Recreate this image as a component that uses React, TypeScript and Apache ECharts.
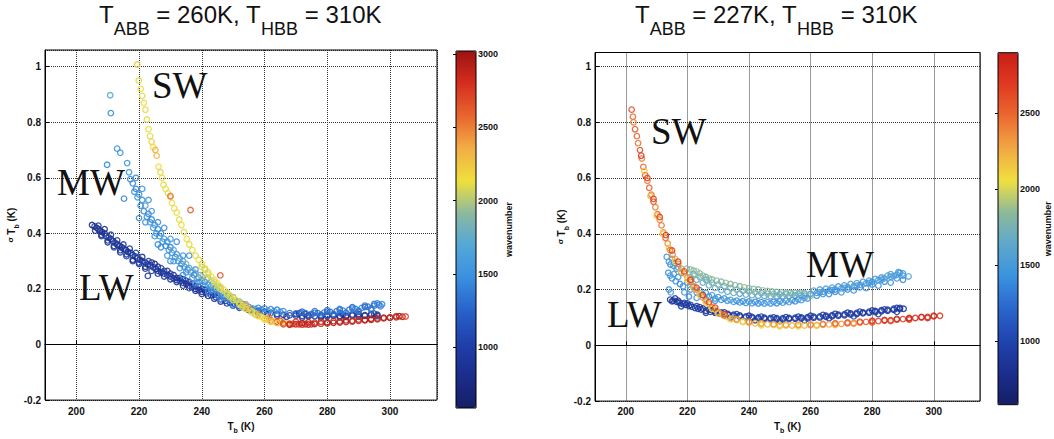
import React, { useEffect, useRef } from "react";
import * as echarts from "echarts";

// ---------- data ----------
const X_RANGE = [190, 315];
const LEFT_Y_RANGE = [-0.2, 1.06];
const RIGHT_Y_RANGE = [-0.2, 1.05];
const LEFT_WN_RANGE = [586, 3020];
const RIGHT_WN_RANGE = [580, 2900];
const ZERO_LINE = [0];

const LEFT_TITLE = "{a|T}{s|ABB}{a| = 260K, T}{s|HBB}{a| = 310K}";
const RIGHT_TITLE = "{a|T}{s|ABB}{a| = 227K, T}{s|HBB}{a| = 310K}";
const BAND_NAMES = ["SW", "MW", "LW"];

const LEFT_COLORS = ["#151f66", "#1b2d8c", "#1f40aa", "#2862c8", "#3a8fe0", "#52a8d8", "#8cb8a0", "#efe03c", "#f2ad46", "#e8652e", "#d52e1e", "#9e1212"];
const RIGHT_COLORS = ["#151f66", "#1b2e8e", "#1f44ae", "#2a66cc", "#3a92e0", "#5ea8cc", "#8cb89c", "#f0e040", "#f2a844", "#ec6a30", "#e03a22", "#c81e18"];

// [Tb (K), sigma Tb (K), wavenumber]
const leftLW = [
  [205,0.43,850],[205.8,0.425,900],[206.5,0.42,780],[207,0.415,950],[207.5,0.41,820],[208.2,0.405,880],[209,0.4,760],[209.5,0.39,990],[210.3,0.385,860],[211,0.38,920],[211.8,0.372,800],[212.5,0.365,1000],[213,0.36,870],[213.8,0.355,940],[214.5,0.35,780],[215,0.345,1050],[215.8,0.34,900],[216.5,0.333,830],[217.3,0.33,960],[218,0.322,880],[218.8,0.317,1010],[219.5,0.31,790],[220.3,0.305,920],[221,0.3,860],[222,0.295,980],[222.8,0.288,830],[223.6,0.285,900],[224.5,0.278,1040],[225.3,0.272,870],[226,0.265,950],[227,0.26,810],[228,0.255,900],[229,0.25,990],[230,0.245,860],[231,0.238,930],[232,0.232,800],[233,0.228,1060],[234,0.222,880],[235,0.218,950],[236,0.212,840],[237,0.207,1000],[238,0.2,900],[239,0.196,820],[240,0.19,970],[241.5,0.184,880],[243,0.177,1030],[244.5,0.17,850],[246,0.163,940],[247.5,0.157,900],[249,0.15,1010],[250.5,0.145,870],[252,0.139,950],[254,0.133,900],[256,0.127,1000],[258,0.122,860],[260,0.118,940],[262,0.114,900],[264,0.11,990],[266,0.107,850],[268,0.105,920],[270,0.104,880],[272,0.103,1000],[274,0.102,870],[276,0.102,950],[278,0.102,820],[280,0.102,900],[282,0.103,990],[284,0.103,860],[286,0.104,930],[288,0.104,800],[290,0.105,960],[292,0.106,880],[294,0.106,1000],[296,0.107,900],
  [206,0.41,900],[208,0.395,850],[210,0.375,950],[212,0.355,880],[214,0.34,820],[216,0.325,960],[218,0.305,900],[220,0.295,1040],[222,0.28,870],[224,0.295,930],[226,0.28,850],[228,0.265,990],[230,0.255,900],[232,0.24,820],[234,0.235,970],[236,0.225,880],[238,0.21,1050],[240,0.2,900],[242,0.19,860],[244,0.18,980],[222.8,0.247,900],
  [271,0.112,950],[273,0.11,880],[275,0.108,1000],[280,0.107,870],[285,0.108,940],[290,0.11,900],[295,0.111,980],[272,0.097,900],[278,0.097,950],[284,0.098,850],[290,0.1,1000],[296,0.102,920],
  [207,0.428,900],[209,0.415,820],[211,0.395,980],[213,0.375,860],[215,0.36,930],[217,0.345,800],[219,0.33,990],[221,0.315,870],[223,0.3,940],[225,0.29,820],[227,0.275,1000],[229,0.265,880],[231,0.25,950],[233,0.24,840],[235,0.23,980],[237,0.22,870],[239,0.208,930],[241,0.197,850],[243,0.188,990],[245,0.178,880],[247,0.168,950],[249,0.16,850],[251,0.152,990],[253,0.145,900],
  [208,0.39,900],[210,0.368,850],[212,0.35,970],[214,0.332,880],[216,0.318,940],[218,0.3,830],[220,0.29,1000],[222,0.273,870],[224,0.265,950],[226,0.255,840],[228,0.245,980],[230,0.235,880],[232,0.225,940],[234,0.212,830],[236,0.203,990],[238,0.193,870],[240,0.182,950],[242,0.175,850],[244,0.165,990],[246,0.155,880],[248,0.148,950],[250,0.14,850],[252,0.132,990],[255,0.124,900],[258,0.115,950],[261,0.109,880],[264,0.104,990],[267,0.1,870],
  [270,0.11,900],[274,0.106,980],[278,0.105,850],[282,0.106,950],[286,0.1,880],[288,0.108,990],[292,0.103,870],[294,0.109,950],
];
const leftMW = [
  [210.8,0.897,1700],[211,0.833,1450],[209.8,0.647,1450],[213,0.705,1500],[214,0.69,1550],[215.2,0.525,1400],[216.2,0.653,1500],[217.2,0.595,1450],[216.8,0.62,1550],
  [218,0.58,1450],[218.5,0.55,1500],[219,0.56,1400],[219.5,0.53,1550],[220,0.54,1600],[220.5,0.5,1450],[221,0.52,1500],[221.5,0.48,1400],[222,0.5,1650],[222.5,0.46,1500],[223,0.47,1450],[223.5,0.44,1550],[224,0.45,1400],[224.5,0.42,1500],[225,0.43,1600],[225.5,0.4,1450],[226,0.415,1500],[226.5,0.39,1550],[227,0.4,1400],[227.5,0.37,1500],[228,0.38,1650],[228.5,0.355,1450],[229,0.37,1500],[229.5,0.34,1550],[230,0.35,1400],[230.5,0.33,1500],[231,0.34,1700],[231.5,0.315,1450],[232,0.325,1550],[232.5,0.3,1500],[233,0.31,1800],[233.5,0.29,1450],[234,0.3,1550],[234.5,0.28,1500],[235,0.29,1850],[235.5,0.27,1450],[236,0.275,1600],[236.5,0.26,1500],[237,0.265,1900],[237.5,0.25,1450],[238,0.255,1550],[239,0.24,1500],[239.5,0.25,1850],[240,0.23,1450],[241,0.225,1550],[241.5,0.235,1900],[242,0.215,1500],[243,0.21,1450],[243.5,0.22,1800],[244,0.2,1550],[245,0.195,1500],[245.5,0.205,1850],[246,0.185,1450],[247,0.18,1550],[248,0.175,1500],[248.5,0.18,1800],[249,0.165,1450],[250,0.16,1550],[251,0.155,1500],[252,0.15,1400],[253,0.145,1550],[254,0.14,1450],[255,0.135,1500],[256,0.13,1400],[257,0.128,1550],[258,0.132,1450],[259,0.125,1500],[260,0.13,1400],[261,0.122,1550],[262,0.127,1450],[263,0.12,1500],[264,0.125,1400],[265,0.118,1550],[266,0.12,1450],[268,0.113,1350],[270,0.112,1300],[271.5,0.115,1250],[273,0.113,1300],[275,0.11,1350],[277,0.113,1300],[279,0.115,1400],[281,0.117,1350],[283,0.12,1300],[285,0.122,1400],[287,0.125,1350],[289,0.128,1300],[291,0.132,1400],[293,0.136,1350],[295,0.14,1300],[296.5,0.143,1400],[297.5,0.145,1450],
  [276,0.12,1300],[280,0.124,1350],[284,0.128,1400],[288,0.134,1300],[292,0.14,1350],[296,0.148,1400],[278,0.107,1350],[284,0.113,1300],[290,0.122,1400],[294,0.13,1350],
  [220,0.455,1450],[224,0.48,1550],[226,0.36,1450],[230,0.3,1500],[234,0.25,1450],[238,0.22,1500],[242,0.19,1450],[246,0.165,1500],[250,0.14,1450],[236,0.32,1450],[232,0.37,1500],[228,0.42,1450],
  [240,0.245,1950],[244,0.21,1950],[248,0.185,1900],[252,0.155,1950],[256,0.13,1900],
  [250,0.148,1350],[252,0.138,1300],[254,0.13,1350],[256,0.122,1300],[258,0.118,1350],
  [225,0.39,1500],[227,0.35,1450],[229,0.32,1550],[231,0.3,1500],[233,0.275,1450],[235,0.26,1550],[237,0.24,1500],[239,0.225,1450],[241,0.21,1550],[243,0.195,1500],[245,0.18,1450],[247,0.17,1550],[249,0.158,1500],[222,0.44,1550],[226,0.44,1500],[230,0.38,1550],[234,0.32,1500],[238,0.27,1550],[242,0.24,1800],[246,0.2,1850],[250,0.17,1800],[254,0.145,1850],[221,0.56,1500],[219,0.6,1450],[223,0.52,1550],
  [272,0.118,1300],[276,0.114,1350],[280,0.118,1300],[284,0.124,1350],[288,0.129,1400],[292,0.135,1300],[295,0.146,1350],[282,0.11,1300],[286,0.115,1350],[290,0.118,1300],[294,0.125,1350],[297,0.138,1400],
];
const leftSW = [
  [219.4,1.008,2250],[219.9,0.95,2100],[220.5,0.92,2150],[221,0.895,2100],[221.5,0.87,2150],[222,0.845,2100],[222.5,0.81,2100],[223,0.775,2150],[223.5,0.75,2100],[224,0.73,2200],[224.5,0.71,2150],[225.2,0.7,2350],[225.6,0.68,2300],[226.2,0.64,2150],[226.8,0.62,2100],[227.3,0.6,2150],[227.8,0.575,2100],[228.5,0.56,2150],[229.2,0.545,2100],[230,0.535,2400],[230.5,0.51,2150],[231.2,0.49,2100],[232,0.475,2150],[232.8,0.45,2100],[233.5,0.43,2150],[234.3,0.405,2100],[235.2,0.38,2150],[236,0.36,2100],[237,0.34,2150],[238,0.32,2100],[239,0.305,2150],[240,0.29,2100],[241,0.275,2150],[242,0.26,2100],[243,0.245,2150],[244,0.232,2100],[245,0.22,2150],[246,0.208,2100],[247,0.197,2150],[248,0.187,2100],[249,0.177,2150],[250,0.168,2100],[251,0.16,2150],[252,0.15,2100],[253,0.142,2200],[254,0.135,2150],[255,0.127,2400],[256,0.12,2150],[257,0.113,2100],[258,0.107,2550],[259,0.1,2150],[260,0.095,2100],[261,0.09,2200],[262,0.087,2600],[263,0.084,2150],[264,0.082,2700],[265,0.08,2200],[266,0.078,2600],[267,0.077,2150],[268,0.075,2800],[269,0.074,2700],[270,0.073,2900],[271,0.073,2800],[272,0.072,2900],[273,0.073,2850],[274,0.072,2950],[275,0.073,2800],[276,0.074,2900],[278,0.075,2850],[280,0.076,2900],[282,0.078,2950],[284,0.079,2850],[286,0.081,2900],[288,0.083,2950],[290,0.085,2850],[292,0.087,2900],[294,0.089,2950],[296,0.091,2850],[298,0.094,2900],[300,0.096,2950],[302,0.098,2850],[304,0.1,2900],[305,0.101,2700],
  [270,0.082,2800],[274,0.08,2900],[278,0.082,2850],[282,0.084,2900],[286,0.087,2950],[290,0.09,2850],[294,0.093,2900],[298,0.097,2950],[302,0.102,2850],
  [236.4,0.484,2600],[245.9,0.249,2650],[230,0.533,2500],[253.9,0.141,2400],[261.5,0.097,2500],[265,0.085,2650],
  [240,0.28,2100],[242,0.252,2150],[244,0.225,2100],[246,0.2,2150],[248,0.18,2100],[250,0.16,2150],[252,0.143,2100],[254,0.128,2150],[256,0.115,2100],[258,0.102,2150],[260,0.09,2200],[262,0.082,2250],[264,0.077,2300],[266,0.073,2700],[268,0.071,2900],[241,0.27,2050],[245,0.212,2050],[249,0.17,2050],[253,0.135,2050],[257,0.108,2050],
  [272,0.078,2900],[276,0.079,2850],[280,0.08,2950],[284,0.083,2900],[288,0.086,2850],[292,0.089,2950],[296,0.094,2900],[300,0.098,2850],[303,0.102,2950],
];

const rightLW = [
  [214.4,0.164,900],[215.5,0.16,850],[216.5,0.156,950],[217.5,0.152,800],[218.5,0.148,1000],[219.5,0.145,880],[220.5,0.141,920],[221.5,0.138,830],[222.5,0.134,980],[223.5,0.131,870],[224.5,0.128,940],[226,0.124,820],[227.5,0.12,1000],[229,0.117,880],[230.5,0.114,930],[232,0.111,850],[233.5,0.108,980],[235,0.106,880],[237,0.103,940],[239,0.1,820],[241,0.098,1000],[243,0.096,870],[245,0.095,930],[247,0.094,850],[249,0.093,980],[251,0.093,880],[253,0.094,940],[255,0.095,830],[257,0.096,1000],[259,0.097,870],[261,0.099,930],[263,0.1,850],[265,0.102,980],[267,0.104,880],[269,0.106,940],[271,0.108,830],[273,0.11,1000],[275,0.112,870],[277,0.115,930],[279,0.117,850],[281,0.119,980],[283,0.122,880],[285,0.124,940],[287,0.127,830],[289,0.13,1000],[290.2,0.131,900],
  [216,0.168,880],[220,0.15,950],[224,0.137,850],[228,0.126,950],[232,0.118,880],[236,0.112,990],[240,0.106,870],[244,0.103,950],[248,0.1,880],[252,0.101,960],[256,0.103,850],[260,0.106,950],[264,0.109,880],[268,0.113,960],[272,0.117,850],[276,0.121,950],[280,0.125,880],[284,0.129,960],[288,0.134,900],
  [218,0.14,900],[226,0.117,940],[234,0.1,880],[242,0.09,950],[250,0.087,900],[258,0.09,950],[266,0.097,880],[274,0.104,960],[282,0.112,900],[288,0.12,950],
  [215,0.158,900],[217,0.16,850],[219,0.152,950],[221,0.145,880],[223,0.14,990],[225,0.132,870],[227,0.128,940],[229,0.122,850],[231,0.118,980],[233,0.113,880],[235,0.11,940],[237,0.107,830],[239,0.104,1000],[241,0.102,870],[243,0.1,930],[245,0.099,850],[247,0.098,980],[249,0.097,880],[251,0.097,940],[253,0.098,830],[255,0.099,1000],[257,0.1,870],[259,0.101,930],[261,0.103,850],[263,0.104,980],[265,0.106,880],[267,0.108,940],[269,0.11,830],[271,0.112,1000],[273,0.114,870],[275,0.116,930],[277,0.118,850],[279,0.121,980],[281,0.123,880],[283,0.126,940],[285,0.128,830],[287,0.131,1000],[289,0.134,870],
];
const rightMW = [
  [213.3,0.317,1450],[214,0.3,1500],[214.5,0.29,1400],[215,0.31,1550],[215.5,0.285,1450],[216,0.295,1500],[216.5,0.275,1400],[217,0.28,1550],[213.8,0.26,1450],[214.4,0.25,1500],[215,0.24,1400],[215.6,0.255,1550],[216.2,0.23,1450],[217,0.245,1500],[217.6,0.22,1400],[218.6,0.212,1450],[218,0.26,1600],[214,0.2,1450],[214.6,0.19,1500],[219,0.19,1450],[220.5,0.175,1400],
  [219.8,0.275,1800],[221,0.272,1850],[222,0.268,1750],[223,0.265,1900],[224,0.258,1800],[225,0.25,1850],[226,0.245,1750],[227,0.24,1900],[228,0.236,1800],[229.5,0.232,1850],[231,0.228,1750],[232.5,0.224,1900],[234,0.22,1800],[235.5,0.216,1850],[237,0.212,1750],[238.5,0.208,1900],[240,0.205,1800],[241.5,0.202,1850],[243,0.2,1750],[244.5,0.197,1900],[246,0.195,1800],[247.5,0.193,1850],[249,0.191,1750],[250.5,0.19,1850],[252,0.189,1800],[253.5,0.188,1750],[255,0.188,1850],[256.6,0.188,1800],[258,0.187,1700],
  [221,0.245,1650],[223,0.235,1700],[225,0.225,1600],[227,0.215,1650],[229,0.205,1700],[231,0.198,1600],[233,0.192,1650],[235,0.188,1700],[237,0.185,1600],[239,0.182,1650],[241,0.18,1700],[243,0.178,1600],[245,0.177,1650],[247,0.176,1700],[249,0.176,1600],[251,0.176,1650],[253,0.177,1700],[255,0.178,1600],[257,0.179,1650],
  [220,0.225,1450],[222,0.21,1500],[224,0.198,1400],[226,0.188,1450],[228,0.18,1500],[230,0.173,1400],[232,0.168,1450],[234,0.163,1500],[236,0.16,1400],[238,0.158,1450],[240,0.157,1500],[242,0.156,1400],[244,0.155,1450],[246,0.155,1500],[248,0.156,1400],[250,0.158,1450],[252,0.16,1500],[254,0.162,1400],[256,0.165,1450],[258,0.17,1500],
  [260,0.185,1500],[262,0.188,1450],[264,0.192,1550],[266,0.196,1500],[268,0.2,1450],[270,0.204,1550],[272,0.208,1500],[274,0.212,1450],[276,0.217,1550],[278,0.222,1500],[280,0.228,1450],[282,0.234,1550],[284,0.24,1500],[286,0.246,1450],[288,0.253,1550],[290,0.258,1500],[291.8,0.247,1600],
  [261,0.196,1550],[265,0.203,1500],[269,0.211,1450],[273,0.22,1550],[277,0.228,1500],[281,0.238,1450],[285,0.25,1550],[288.5,0.262,1500],
  [262,0.178,1450],[266,0.184,1400],[270,0.19,1450],[274,0.197,1400],[278,0.205,1450],[282,0.214,1400],[286,0.225,1450],[290,0.235,1400],
  [260,0.178,1800],[258,0.185,1750],
  [222,0.255,1750],[224,0.245,1800],[226,0.235,1700],[228,0.225,1750],[230,0.218,1800],[232,0.212,1700],[234,0.206,1750],[236,0.2,1800],[238,0.196,1700],[240,0.193,1750],[242,0.19,1800],[244,0.187,1700],[246,0.185,1750],[248,0.184,1800],[250,0.183,1700],[252,0.183,1750],[254,0.183,1800],[256,0.184,1700],[258,0.178,1650],
  [221,0.2,1450],[223,0.19,1500],[225,0.182,1400],[227,0.175,1450],[229,0.168,1500],[231,0.163,1400],[233,0.16,1450],[235,0.156,1500],[237,0.154,1400],[239,0.152,1450],[241,0.151,1500],[243,0.15,1400],[245,0.15,1450],[247,0.15,1500],[249,0.151,1400],[251,0.153,1450],[253,0.155,1500],[255,0.158,1400],[257,0.162,1450],[259,0.168,1500],[223,0.17,1450],[226,0.165,1400],[229,0.16,1450],
  [263,0.19,1500],[267,0.198,1450],[271,0.206,1550],[275,0.214,1500],[279,0.224,1450],[283,0.235,1550],[287,0.248,1500],[289,0.26,1450],[264,0.184,1450],[268,0.192,1400],[272,0.2,1450],[276,0.208,1400],[280,0.218,1450],[284,0.228,1400],[288,0.24,1450],[290,0.25,1500],[263,0.2,1550],[267,0.207,1500],[271,0.215,1450],[275,0.223,1550],[279,0.232,1500],[283,0.243,1450],[286,0.255,1550],
];
const rightSW = [
  [201.9,0.845,2600],[202.3,0.82,2500],[202.5,0.8,2400],[203,0.775,2550],[203.6,0.75,2500],[204,0.725,2450],[204.6,0.7,2600],[205.2,0.67,2400],[205.7,0.64,2500],[206.3,0.61,2550],[207,0.59,2400],[207.6,0.565,2500],[208.3,0.54,2450],[209,0.515,2550],[209.6,0.495,2400],[210.3,0.47,2500],[211,0.45,2350],[211.6,0.43,2450],[212.2,0.405,2400],[212.9,0.385,2500],[213.6,0.365,2350],[214.4,0.342,2450],[215.2,0.325,2400],[216,0.31,2300],[217,0.292,2450],[218,0.275,2350],[219,0.258,2400],[220,0.243,2300],[221,0.228,2450],[222,0.213,2350],[223,0.2,2400],[224,0.187,2250],[225,0.172,2400],[226,0.16,2350],[227,0.148,2300],[228,0.137,2400],[229,0.128,2250],[230,0.12,2350],[231.5,0.11,2300],[233,0.102,2200],[234.5,0.096,2300],[236,0.091,2250],[238,0.086,2150],[240,0.082,2300],[242,0.079,2200],[244,0.076,2150],[246,0.075,2250],[248,0.073,2100],[250,0.072,2200],[252,0.071,2150],[254,0.071,2250],[256,0.071,2100],[258,0.071,2200],[260,0.072,2300],[262,0.073,2250],[264,0.074,2350],[266,0.075,2300],[268,0.076,2400],[270,0.077,2350],[272,0.079,2450],[274,0.08,2400],[276,0.082,2500],[278,0.084,2550],[280,0.086,2600],[282,0.087,2650],[284,0.089,2700],[286,0.09,2700],[288,0.092,2750],[290,0.094,2700],[292,0.096,2750],[294,0.098,2800],[296,0.1,2750],[298,0.102,2800],[300,0.104,2750],[302,0.106,2700],
  [206,0.625,2150],[208,0.535,2200],[210,0.465,2150],[212,0.4,2100],[214,0.348,2150],[216,0.3,2100],[218,0.265,2150],[220,0.235,2100],[222,0.205,2150],[224,0.18,2100],[226,0.153,2150],[228,0.131,2100],[230,0.114,2150],[234,0.093,2100],[238,0.083,2150],[244,0.072,2100],[250,0.068,2150],[256,0.068,2100],[262,0.07,2150],[268,0.073,2200],[274,0.077,2300],[280,0.082,2500],[286,0.087,2600],[292,0.092,2700],[298,0.098,2750],
  [205,0.68,2700],[207,0.6,2650],[209,0.525,2700],[211,0.46,2650],[213,0.395,2700],[215,0.34,2650],[217,0.3,2700],[219,0.265,2650],[221,0.235,2700],[223,0.207,2650],[225,0.18,2700],[227,0.155,2650],[229,0.135,2700],[232,0.112,2650],
  [232,0.106,2400],[236,0.094,2350],[240,0.085,2400],[244,0.079,2300],[248,0.076,2350],[252,0.074,2300],[256,0.074,2350],[260,0.075,2400],[264,0.077,2450],[268,0.079,2500],[272,0.082,2550],[276,0.085,2600],[280,0.088,2700],[284,0.091,2750],[288,0.095,2800],[292,0.098,2800],[296,0.102,2800],[300,0.106,2800],
];

// ---------- helpers ----------
const FONT = "Liberation Sans";
const toItems = (arr: number[][], range: number[], colors: string[]) =>
  arr.map((p) => ({
    value: p,
    itemStyle: {
      borderColor: echarts.color.lerp((p[2] - range[0]) / (range[1] - range[0]), colors) as string,
    },
  }));

const titleRich = {
  a: { fontSize: 24, lineHeight: 24, verticalAlign: "top", fontFamily: FONT, fontWeight: "normal", color: "#111" },
  s: { fontSize: 18, lineHeight: 18, verticalAlign: "top", padding: [18, 0, 0, 0], fontFamily: FONT, fontWeight: "normal", color: "#111" },
};
const nameRich = {
  g: { fontSize: 8, lineHeight: 10, verticalAlign: "top", fontFamily: FONT, color: "#111", fontWeight: "bold" },
  t: { fontSize: 10, lineHeight: 10, verticalAlign: "top", fontFamily: FONT, color: "#111", fontWeight: "bold" },
  b: { fontSize: 7, lineHeight: 7, verticalAlign: "top", padding: [6, 0, 0, 0], fontFamily: FONT, color: "#111", fontWeight: "bold" },
};
const tickLabel = { fontSize: 10, fontWeight: "bold", fontFamily: FONT, color: "#111" };
const dotted = { show: true, lineStyle: { color: "#333", type: "dotted", width: 1 } };
const plain = (v: number) => String(v);

function mainX(grid: number, gap: number, margin: number) {
  return {
    gridIndex: grid, type: "value", min: X_RANGE[0], max: X_RANGE[1], splitNumber: 6,
    axisLine: { show: true, lineStyle: { color: "#000" } },
    axisTick: { show: true, inside: true, length: 4, lineStyle: { color: "#000" } },
    axisLabel: { ...tickLabel, margin, showMinLabel: false, showMaxLabel: false, formatter: plain },
    splitLine: dotted,
    name: "{t|T}{b|b}{t| (K)}", nameLocation: "middle", nameGap: gap,
    nameTextStyle: { fontSize: 10, fontWeight: "bold", fontFamily: FONT, rich: nameRich },
  };
}
function mainY(grid: number, range: number[], gap: number) {
  return {
    gridIndex: grid, type: "value", min: range[0], max: range[1], interval: 0.2,
    axisLine: { show: true, lineStyle: { color: "#000" } },
    axisTick: { show: true, inside: true, length: 4, lineStyle: { color: "#000" } },
    axisLabel: { ...tickLabel, margin: 4, showMaxLabel: false },
    splitLine: dotted,
    name: "{g|σ }{t|T}{b|b}{t| (K)}", nameLocation: "middle", nameGap: gap,
    nameTextStyle: { fontSize: 10, fontWeight: "bold", fontFamily: FONT, rich: nameRich },
  };
}
function barY(grid: number, range: number[], gap: number) {
  return {
    gridIndex: grid, type: "value", position: "right", min: range[0], max: range[1], splitNumber: 5, z: 5,
    axisLine: { show: false },
    axisTick: { show: true, inside: true, length: 3, lineStyle: { color: "#000" } },
    axisLabel: { fontSize: 9, fontWeight: "bold", fontFamily: FONT, color: "#111", margin: 2, showMinLabel: false, showMaxLabel: false, formatter: plain },
    splitLine: { show: false },
    name: "wavenumber", nameLocation: "middle", nameGap: gap,
    nameTextStyle: { fontSize: 9, fontWeight: "bold", fontFamily: FONT, color: "#111" },
  };
}
function scatter(xi: number, data: any[], withZero: boolean) {
  const s: any = {
    type: "scatter", xAxisIndex: xi, yAxisIndex: xi, symbol: "circle", symbolSize: 5.5, silent: true,
    itemStyle: { color: "rgba(0,0,0,0)", borderWidth: 1.3, opacity: 0.9 },
    data,
  };
  if (withZero) {
    s.markLine = {
      silent: true, symbol: ["none", "none"], label: { show: false },
      lineStyle: { color: "#000", type: "solid", width: 1 },
      data: ZERO_LINE.map((v) => ({ yAxis: v })),
    };
  }
  return s;
}
const bandText = (text: string, x: number, y: number) => ({
  type: "text", x, y, z: 20,
  style: { text, fontFamily: "Liberation Serif", fontSize: 37, fill: "#111", align: "left", verticalAlign: "top" },
});

export default function App() {
  const ref = useRef<HTMLDivElement>(null);
  useEffect(() => {
    if (!ref.current) return;
    const chart = echarts.init(ref.current, undefined, { renderer: "svg" });
    const titleStyle = { fontSize: 24, fontWeight: "normal", fontFamily: FONT, color: "#111", rich: titleRich };
    const option: any = {
      animation: false,
      backgroundColor: "#fff",
      title: [
        { text: LEFT_TITLE, left: 99, top: 2, padding: 0, textStyle: titleStyle },
        { text: RIGHT_TITLE, left: 635, top: 2, padding: 0, textStyle: titleStyle },
      ],
      grid: [
        { left: 45, top: 50, width: 392, height: 361, show: true, borderColor: "#000", borderWidth: 1, z: 3 },
        { left: 595, top: 52.5, width: 385, height: 354, show: true, borderColor: "#000", borderWidth: 1, z: 3 },
        { left: 456, top: 51, width: 20, height: 357, show: true, borderColor: "#000", borderWidth: 1, z: 5 },
        { left: 998, top: 52.7, width: 20, height: 352, show: true, borderColor: "#000", borderWidth: 1, z: 5 },
      ],
      xAxis: [
        mainX(0, 13, 6),
        mainX(1, 11, 5),
        { gridIndex: 2, type: "value", show: false, min: 0, max: 1 },
        { gridIndex: 3, type: "value", show: false, min: 0, max: 1 },
      ],
      yAxis: [
        mainY(0, LEFT_Y_RANGE, 23),
        mainY(1, RIGHT_Y_RANGE, 23),
        barY(2, LEFT_WN_RANGE, 28),
        barY(3, RIGHT_WN_RANGE, 25),
      ],
      visualMap: [
        { type: "continuous", seriesIndex: [6], dimension: 1, min: LEFT_WN_RANGE[0], max: LEFT_WN_RANGE[1], left: 456, top: 51, itemWidth: 20, itemHeight: 357, calculable: false, padding: 0, hoverLink: false, z: 0, inRange: { color: LEFT_COLORS } },
        { type: "continuous", seriesIndex: [7], dimension: 1, min: RIGHT_WN_RANGE[0], max: RIGHT_WN_RANGE[1], left: 998, top: 52.7, itemWidth: 20, itemHeight: 352, calculable: false, padding: 0, hoverLink: false, z: 0, inRange: { color: RIGHT_COLORS } },
      ],
      series: [
        scatter(0, toItems(leftLW, LEFT_WN_RANGE, LEFT_COLORS), true),
        scatter(0, toItems(leftMW, LEFT_WN_RANGE, LEFT_COLORS), false),
        scatter(0, toItems(leftSW, LEFT_WN_RANGE, LEFT_COLORS), false),
        scatter(1, toItems(rightLW, RIGHT_WN_RANGE, RIGHT_COLORS), true),
        scatter(1, toItems(rightMW, RIGHT_WN_RANGE, RIGHT_COLORS), false),
        scatter(1, toItems(rightSW, RIGHT_WN_RANGE, RIGHT_COLORS), false),
        { type: "scatter", xAxisIndex: 2, yAxisIndex: 2, data: [] },
        { type: "scatter", xAxisIndex: 3, yAxisIndex: 3, data: [] },
      ],
      graphic: [
        bandText(BAND_NAMES[0], 152, 66.5),
        bandText(BAND_NAMES[1], 57, 163.5),
        bandText(BAND_NAMES[2], 79, 268.5),
        bandText(BAND_NAMES[0], 651, 112.5),
        bandText(BAND_NAMES[1], 806, 245.5),
        bandText(BAND_NAMES[2], 607, 295.5),
      ],
    };
    chart.setOption(option);
    return () => chart.dispose();
  }, []);
  return (
    <div style={{ position: "fixed", left: 0, top: 0, width: 1054, height: 439, background: "#fff" }}>
      <div ref={ref} style={{ width: 1054, height: 439 }} />
    </div>
  );
}
